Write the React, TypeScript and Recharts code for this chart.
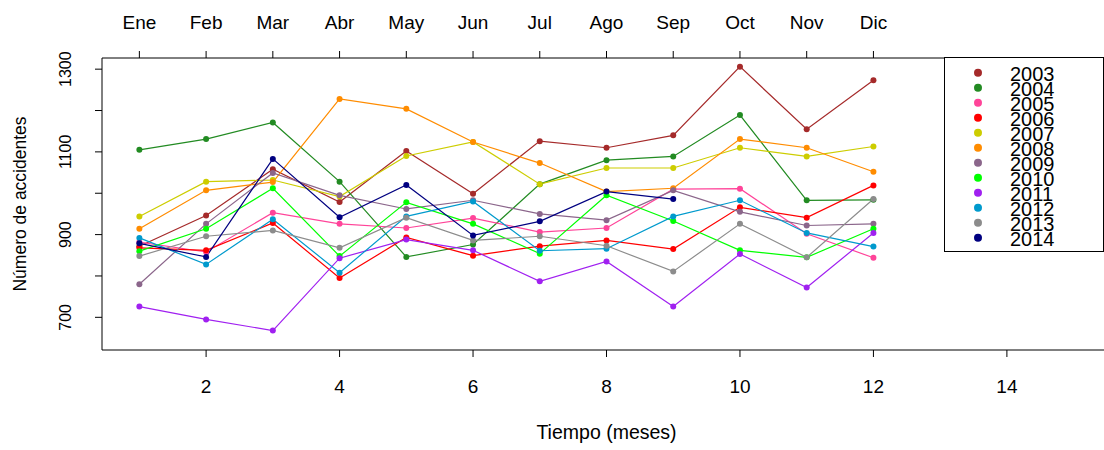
import { LineChart, Line, XAxis, YAxis, Legend } from 'recharts';

const months = [1, 2, 3, 4, 5, 6, 7, 8, 9, 10, 11, 12];
const monthLabels = ['Ene', 'Feb', 'Mar', 'Abr', 'May', 'Jun', 'Jul', 'Ago', 'Sep', 'Oct', 'Nov', 'Dic'];
const bottomTicks = [2, 4, 6, 8, 10, 12, 14];
const yTicks = [700, 800, 900, 1000, 1100, 1200, 1300];
const yLabeled = [700, 900, 1100, 1300];

const y2003 = [872, 946, 1058, 979, 1102, 999, 1126, 1110, 1140, 1306, 1155, 1273];
const y2004 = [1105, 1131, 1171, 1028, 846, 876, 1022, 1080, 1089, 1189, 983, 984];
const y2005 = [882, 858, 953, 926, 916, 940, 906, 916, 1010, 1011, 902, 844];
const y2006 = [868, 862, 928, 795, 893, 849, 872, 886, 865, 966, 941, 1019];
const y2007 = [944, 1028, 1032, 992, 1090, 1124, 1022, 1061, 1061, 1110, 1089, 1113];
const y2008 = [914, 1007, 1027, 1228, 1204, 1124, 1073, 1004, 1012, 1131, 1110, 1052];
const y2009 = [780, 926, 1049, 995, 962, 983, 950, 935, 1007, 955, 922, 926];
const y2010 = [860, 914, 1012, 848, 978, 926, 854, 995, 933, 862, 845, 914];
const y2011 = [726, 695, 668, 843, 888, 862, 787, 835, 726, 853, 772, 904];
const y2012 = [892, 828, 937, 808, 944, 980, 861, 866, 944, 983, 904, 871];
const y2013 = [848, 896, 910, 868, 941, 886, 896, 873, 811, 926, 845, 986];
const y2014 = [879, 846, 1083, 942, 1020, 898, 932, 1004, 986];

const years = [
  { key: '2003', values: y2003, color: '#a52a2a' },
  { key: '2004', values: y2004, color: '#228b22' },
  { key: '2005', values: y2005, color: '#ff4499' },
  { key: '2006', values: y2006, color: '#ff0000' },
  { key: '2007', values: y2007, color: '#cdcd00' },
  { key: '2008', values: y2008, color: '#ff8c00' },
  { key: '2009', values: y2009, color: '#8b668b' },
  { key: '2010', values: y2010, color: '#00ff00' },
  { key: '2011', values: y2011, color: '#a020f0' },
  { key: '2012', values: y2012, color: '#009acd' },
  { key: '2013', values: y2013, color: '#8c8c8c' },
  { key: '2014', values: y2014, color: '#000080' },
];

const data = months.map((m, i) => {
  const row: Record<string, number | undefined> = { m };
  years.forEach((y) => {
    row[y.key] = y.values[i];
  });
  return row;
});

const FONT = '"Liberation Sans", Arial, sans-serif';
const xDomain = [0.44, 15.56];
const yDomain = [621, 1327];

const BottomTick = (props: any) => {
  const { x, payload } = props;
  return (
    <text x={x} y={386} textAnchor='middle' dominantBaseline='central' fontSize={19} fill='#000' fontFamily={FONT}>
      {payload.value}
    </text>
  );
};

const TopTick = (props: any) => {
  const { x, payload } = props;
  return (
    <text x={x} y={22} textAnchor='middle' dominantBaseline='central' fontSize={19} fill='#000' fontFamily={FONT}>
      {monthLabels[payload.value - 1]}
    </text>
  );
};

const LeftTick = (props: any) => {
  const { y, payload } = props;
  if (!yLabeled.includes(payload.value)) return <g />;
  return (
    <text
      x={66}
      y={y}
      transform={`rotate(-90, 66, ${y})`}
      textAnchor='middle'
      dominantBaseline='central'
      fontSize={16}
      fill='#000'
      fontFamily={FONT}
    >
      {payload.value}
    </text>
  );
};

const LegendBox = (props: any) => {
  const { payload } = props;
  return (
    <svg width={160} height={196} style={{ display: 'block' }}>
      <rect x={0.5} y={0.5} width={159} height={194} fill='#fff' stroke='#000' />
      {(payload || []).map((p: any, i: number) => (
        <g key={p.value}>
          <circle cx={34} cy={15.7 + i * 15} r={4} fill={p.color} />
          <text
            x={66}
            y={16.7 + i * 15}
            dominantBaseline='central'
            fontSize={20}
            fill='#000'
            fontFamily={FONT}
          >
            {p.value}
          </text>
        </g>
      ))}
    </svg>
  );
};

const App = () => {
  return (
    <div style={{ position: 'absolute', left: 0, top: 0, width: 1104, height: 450, overflow: 'hidden', background: '#fff' }}>
      <LineChart width={1111} height={450} data={data} margin={{ top: 8, right: 0, bottom: 5, left: 12 }}>
        <XAxis
          dataKey='m'
          type='number'
          domain={xDomain}
          ticks={bottomTicks}
          tick={BottomTick}
          tickSize={7}
          height={95}
          stroke='#000'
          allowDataOverflow
          label={{ value: 'Tiempo (meses)', position: 'insideBottom', offset: 6, fontSize: 19.5, fill: '#000', fontFamily: FONT }}
        />
        <XAxis
          xAxisId='top'
          orientation='top'
          dataKey='m'
          type='number'
          domain={xDomain}
          ticks={months}
          tick={TopTick}
          tickSize={7}
          height={50}
          stroke='#000'
          allowDataOverflow
        />
        <YAxis
          type='number'
          domain={yDomain}
          ticks={yTicks}
          tick={LeftTick}
          tickSize={7}
          width={90}
          stroke='#000'
          allowDataOverflow
          label={(p: any) => {
            const vb = p.viewBox || { y: 58, height: 292 };
            const cy = vb.y + vb.height / 2;
            return (
              <text
                x={20}
                y={cy}
                transform={`rotate(-90, 20, ${cy})`}
                textAnchor='middle'
                dominantBaseline='central'
                fontSize={17.5}
                fill='#000'
                fontFamily={FONT}
              >
                Número de accidentes
              </text>
            );
          }}
        />
        <Legend
          layout='vertical'
          align='center'
          verticalAlign='middle'
          content={LegendBox}
          wrapperStyle={{ position: 'absolute', left: 944, top: 57, width: 160, height: 196 }}
        />
        {years.map((y) => (
          <Line
            key={y.key}
            dataKey={y.key}
            name={y.key}
            stroke={y.color}
            strokeWidth={1.2}
            dot={{ r: 3, fill: y.color, stroke: y.color, strokeWidth: 0 }}
            activeDot={false}
            isAnimationActive={false}
          />
        ))}
      </LineChart>
    </div>
  );
};

export default App;
